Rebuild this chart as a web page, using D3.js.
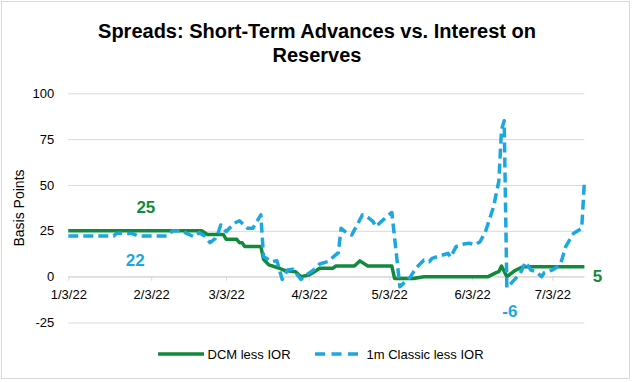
<!DOCTYPE html>
<html>
<head>
<meta charset="utf-8">
<script src="https://cdn.jsdelivr.net/npm/d3@7"></script>
<style>
  html, body { margin: 0; padding: 0; background: #fff; }
  svg { display: block; font-family: "Liberation Sans", Arial, sans-serif; }
</style>
</head>
<body>
<svg id="chart" width="635" height="382"></svg>
<script>
// ---- data ----
const titleLines = ["Spreads: Short-Term Advances vs. Interest on", "Reserves"];
const yAxisTitle = "Basis Points";
const seriesNames = ["DCM less IOR", "1m Classic less IOR"];
const xTickLabels = ["1/3/22", "2/3/22", "3/3/22", "4/3/22", "5/3/22", "6/3/22", "7/3/22"];
const yTickValues = [-25, 0, 25, 50, 75, 100];
const xDomain = ["2022-01-03", "2022-07-15"];
const yDomain = [-25, 100];

const dcmDates = ["2022-01-03","2022-02-22","2022-02-24","2022-03-02","2022-03-03","2022-03-07","2022-03-08","2022-03-09","2022-03-10","2022-03-16","2022-03-17","2022-03-19","2022-03-23","2022-03-25","2022-03-29","2022-03-31","2022-04-03","2022-04-05","2022-04-07","2022-04-12","2022-04-13","2022-04-20","2022-04-22","2022-04-25","2022-05-04","2022-05-05","2022-05-12","2022-05-16","2022-06-09","2022-06-12","2022-06-13","2022-06-14","2022-06-16","2022-06-19","2022-06-22","2022-07-15"];
const dcmValues = [25,25,23,23,20.4,20.4,18.5,18.5,16.5,16.5,9.5,6.4,4.6,3.3,2.7,0,0.9,2.7,4.6,4.6,5.8,5.8,8.6,5.8,5.8,-1,-1,0,0,2.2,2.7,5.8,0,3.3,5.4,5.4];

const classicDates = ["2022-01-03","2022-01-20","2022-01-21","2022-01-27","2022-01-29","2022-02-09","2022-02-11","2022-02-15","2022-02-16","2022-02-19","2022-02-21","2022-02-23","2022-02-25","2022-02-27","2022-02-28","2022-03-01","2022-03-03","2022-03-06","2022-03-08","2022-03-11","2022-03-13","2022-03-16","2022-03-17","2022-03-20","2022-03-22","2022-03-24","2022-03-26","2022-03-28","2022-03-31","2022-04-02","2022-04-05","2022-04-07","2022-04-10","2022-04-12","2022-04-14","2022-04-15","2022-04-17","2022-04-19","2022-04-20","2022-04-23","2022-04-25","2022-04-27","2022-04-28","2022-04-30","2022-05-02","2022-05-04","2022-05-07","2022-05-11","2022-05-13","2022-05-16","2022-05-18","2022-05-19","2022-05-23","2022-05-25","2022-05-26","2022-05-28","2022-05-31","2022-06-02","2022-06-04","2022-06-06","2022-06-08","2022-06-11","2022-06-12","2022-06-13","2022-06-14","2022-06-15","2022-06-16","2022-06-18","2022-06-21","2022-06-23","2022-06-25","2022-06-27","2022-06-29","2022-06-30","2022-07-03","2022-07-06","2022-07-08","2022-07-11","2022-07-13","2022-07-14","2022-07-15"];
const classicValues = [22.2,22.2,23.7,23.5,22.2,22.2,25,25,23.7,21.8,24,22.2,18.5,20.9,23.7,28.2,24.5,29.1,30.5,26.4,26.4,33.7,11,8.2,8.7,-1.5,3.6,4,-1.5,0.9,4,6.9,8.2,10.6,13.1,26.4,24,22.7,25.5,33.7,32.4,30,27.3,30,32.7,35,-5.5,0,4.6,9.1,8.2,10,11.8,12.7,10.6,16.4,17.8,18.2,17.3,19.1,24.5,38,45,52,80,85,-6,-3,1.8,7.9,3.6,2.7,0,2.2,3.6,6.4,16.4,23.7,25.5,26.4,52];

const endLabels = ["25", "22", "5", "-6"];

// ---- setup ----
const GREEN = "#118a3c", BLUE = "#1da7e1", GRID = "#d9d9d9", TEXT = "#000";
const parse = d3.utcParse("%Y-%m-%d");
const parseTick = d3.utcParse("%m/%d/%y");
const svg = d3.select("#chart");

const x = d3.scaleUtc().domain(xDomain.map(parse)).range([68.3, 584.4]);
const y = d3.scaleLinear().domain(yDomain).range([322.5, 93.3]);

// outer border
svg.append("rect").attr("x", 1.5).attr("y", 1.5).attr("width", 628).attr("height", 377)
  .attr("fill", "#fff").attr("stroke", GRID).attr("stroke-width", 1);

// title
svg.append("g").selectAll("text").data(titleLines).join("text")
  .attr("x", 317).attr("y", (d, i) => 37.5 + i * 24)
  .attr("text-anchor", "middle").attr("font-size", 20).attr("font-weight", "bold")
  .attr("fill", TEXT).text(d => d);

// gridlines + y labels
const yAxis = d3.axisLeft(y).tickValues(yTickValues).tickSize(-(584.4 - 68.3)).tickPadding(14).tickFormat(d => String(d));
const gy = svg.append("g").attr("transform", "translate(68.3,0)").call(yAxis);
gy.select(".domain").remove();
gy.selectAll(".tick line").attr("stroke", GRID).attr("stroke-width", 1);
gy.selectAll(".tick text").attr("font-size", 13).attr("fill", TEXT).attr("font-family", "Liberation Sans, Arial, sans-serif");

// x axis on zero line
const xAxis = d3.axisBottom(x).tickValues(xTickLabels.map(parseTick)).tickSize(4).tickPadding(9)
  .tickFormat((d, i) => xTickLabels[i]);
const gx = svg.append("g").attr("transform", `translate(0,${y(0)})`).call(xAxis);
gx.select(".domain").attr("stroke", GRID).attr("d", `M${x.range()[0]},0H${x.range()[1]}`);
gx.selectAll(".tick line").attr("stroke", GRID);
gx.selectAll(".tick text").attr("font-size", 13).attr("fill", TEXT).attr("font-family", "Liberation Sans, Arial, sans-serif");

// y-axis title
svg.append("text").attr("transform", "translate(24,208) rotate(-90)")
  .attr("text-anchor", "middle").attr("font-size", 14).attr("fill", TEXT).text(yAxisTitle);

// lines
const line = d3.line().x(d => x(d.date)).y(d => y(d.value));
const dcm = dcmDates.map((d, i) => ({ date: parse(d), value: dcmValues[i] }));
const classic = classicDates.map((d, i) => ({ date: parse(d), value: classicValues[i] }));

svg.append("path").datum(dcm).attr("d", line).attr("fill", "none")
  .attr("stroke", GREEN).attr("stroke-width", 3.5).attr("stroke-linejoin", "round");
svg.append("path").datum(classic).attr("d", line).attr("fill", "none")
  .attr("stroke", BLUE).attr("stroke-width", 3.5).attr("stroke-dasharray", "10,5")
  .attr("stroke-linejoin", "round");

// value labels (anchored to data via scales)
const lab = (t, cx, cy, col) => svg.append("text").attr("x", cx).attr("y", cy)
  .attr("text-anchor", "middle").attr("dominant-baseline", "central")
  .attr("font-size", 17).attr("font-weight", "bold").attr("fill", col).text(t);
lab(endLabels[0], x(parse("2022-02-01")), y(dcmValues[0]) - 23, GREEN);
lab(endLabels[1], x(parse("2022-01-28")), y(classicValues[0]) + 25, BLUE);
lab(endLabels[2], x(parse(dcmDates[dcmDates.length - 1])) + 13, y(0), GREEN);
lab(endLabels[3], x(parse("2022-06-16")) + 3, y(-6) + 24, BLUE);

// legend
const lg = svg.append("g");
lg.append("line").attr("x1", 158).attr("x2", 204).attr("y1", 354).attr("y2", 354)
  .attr("stroke", GREEN).attr("stroke-width", 3.5);
lg.append("text").attr("x", 207.5).attr("y", 354).attr("dominant-baseline", "central")
  .attr("font-size", 13).attr("fill", TEXT).text(seriesNames[0]);
lg.append("line").attr("x1", 315).attr("x2", 358).attr("y1", 354).attr("y2", 354)
  .attr("stroke", BLUE).attr("stroke-width", 3.5).attr("stroke-dasharray", "10,6.5");
lg.append("text").attr("x", 366.5).attr("y", 354).attr("dominant-baseline", "central")
  .attr("font-size", 13).attr("fill", TEXT).text(seriesNames[1]);
</script>
</body>
</html>
